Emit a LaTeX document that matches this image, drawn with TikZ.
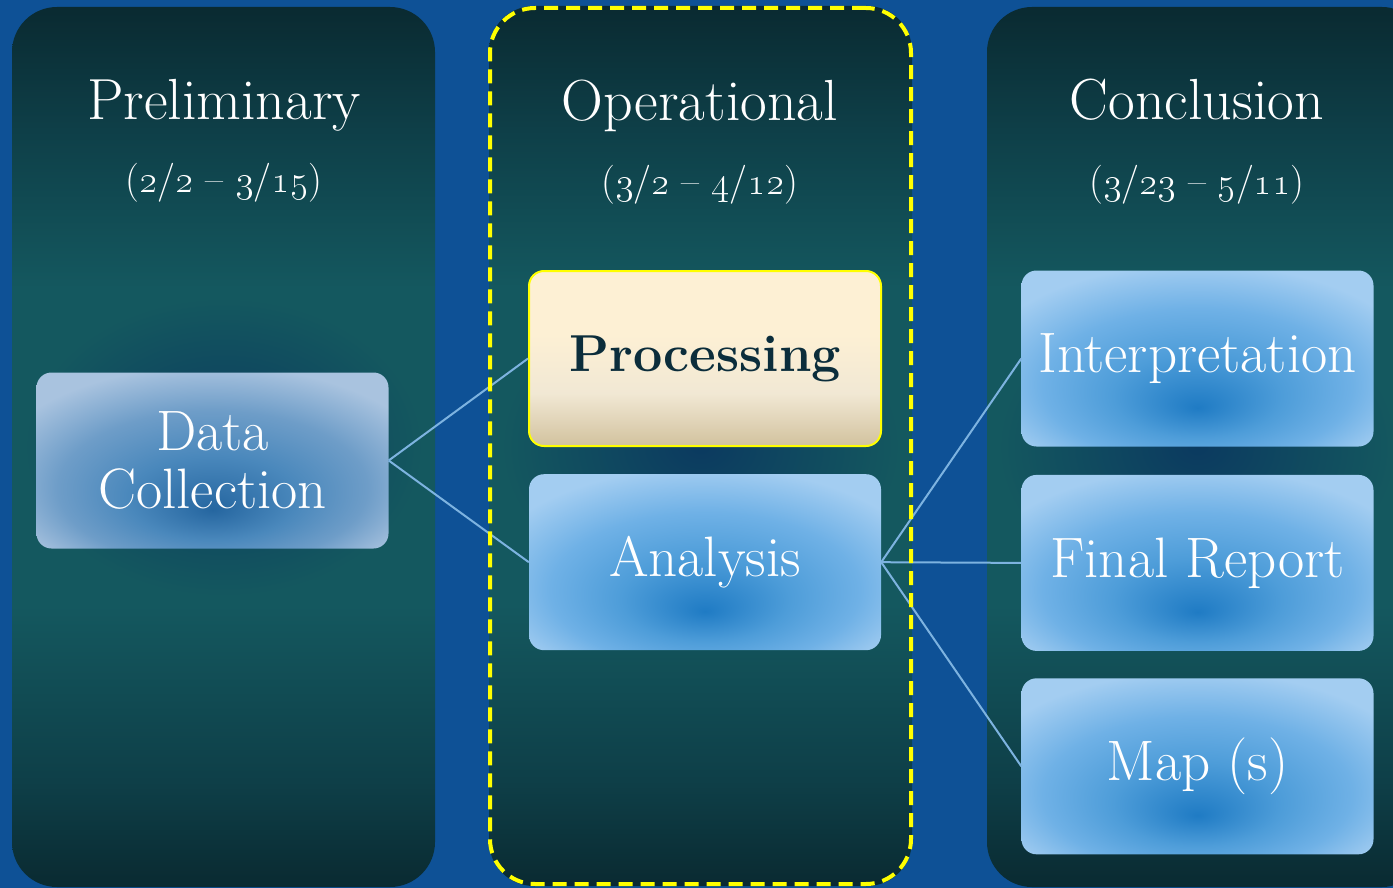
\RequirePackage{fix-cm}
\documentclass[tikz,border=0pt]{standalone}
\usepackage{tikz}
\usetikzlibrary{positioning}
\definecolor{bgBlue}{HTML}{0E5196}
\definecolor{colDark}{HTML}{0A2A31}
\definecolor{colDim}{HTML}{0E3F48}
\definecolor{colTeal}{HTML}{14585F}
\definecolor{colGlow}{HTML}{0B3A60}
\definecolor{boxEdge}{HTML}{A3CDF1}
\definecolor{boxLight}{HTML}{6FB1E6}
\definecolor{boxMid}{HTML}{4E9DD9}
\definecolor{boxDeep}{HTML}{1F7BC4}
\definecolor{dcEdge}{HTML}{A9C3DF}
\definecolor{dcLight}{HTML}{6E9DC8}
\definecolor{dcMid}{HTML}{4A88BC}
\definecolor{dcDeep}{HTML}{2566A0}
\definecolor{creamTop}{HTML}{FDF0D4}
\definecolor{creamMid}{HTML}{F1E8D4}
\definecolor{creamBot}{HTML}{D2C29E}
\definecolor{procInk}{HTML}{0B2D3B}
\definecolor{linkBlue}{HTML}{7DB3E0}
\definecolor{markYellow}{HTML}{FFFF00}
% the path box spans 25bp..75bp of each shading
\pgfdeclareverticalshading{colShade}{100bp}{color(0bp)=(colDark); color(25bp)=(colDark); color(31bp)=(colDim); color(41bp)=(colTeal); color(59bp)=(colTeal); color(68bp)=(colDim); color(75bp)=(colDark); color(100bp)=(colDark)}
\pgfdeclareradialshading{boxGlow}{\pgfpoint{0bp}{-14bp}}{color(0bp)=(boxDeep); color(12bp)=(boxMid); color(22bp)=(boxLight); color(32bp)=(boxEdge); color(50bp)=(boxEdge)}
\pgfdeclareradialshading{dcGlow}{\pgfpoint{0bp}{-14bp}}{color(0bp)=(dcDeep); color(12bp)=(dcMid); color(22bp)=(dcLight); color(32bp)=(dcEdge); color(50bp)=(dcEdge)}
\pgfdeclareverticalshading{creamShade}{100bp}{color(0bp)=(creamBot); color(25bp)=(creamBot); color(40bp)=(creamMid); color(57bp)=(creamTop); color(100bp)=(creamTop)}
\newcommand{\od}[1]{\oldstylenums{#1}}

\begin{document}
\begin{tikzpicture}[x=1pt,y=-1pt,
  column/.style={rounded corners=45pt,minimum width=423pt,minimum height=880pt,shading=colShade,inner sep=0pt},
  opframe/.style={draw=markYellow,line width=4pt,dash pattern=on 14pt off 8pt,rounded corners=45pt,minimum width=421pt,minimum height=876pt,inner sep=0pt},
  coltitle/.style={text=white,font=\fontsize{58}{64}\selectfont,anchor=base,inner sep=0pt},
  coldate/.style={text=white,font=\fontsize{39}{44}\selectfont,anchor=base,inner sep=0pt},
  bluebox/.style={rounded corners=15pt,minimum width=352pt,minimum height=176pt,shading=boxGlow,text=white,font=\fontsize{57}{58}\selectfont,align=center,inner sep=0pt},
  procbox/.style={bluebox,shading=creamShade,draw=markYellow,line width=2pt,text=procInk,font=\fontsize{52}{58}\selectfont\bfseries},
  link/.style={draw=linkBlue,line width=2pt}]
\fill[bgBlue] (0,0) rectangle (1393,888);
\clip (0,0) rectangle (1393,888);
% the three phases
\node[column] (colpre) at (223.5,447) {};
\node[column] (colop) at (700.5,446) {};
\node[column,minimum width=440pt] (colcon) at (1207,447) {};
\shade[inner color=colGlow,outer color=colTeal] (colpre.center) ellipse [x radius=200pt,y radius=150pt];
\shade[inner color=colGlow,outer color=colTeal] (colop.center) ellipse [x radius=200pt,y radius=150pt];
\shade[inner color=colGlow,outer color=colTeal] (1197.5,447) ellipse [x radius=200pt,y radius=150pt];
\node[coltitle] (tpre) at (224,120) {Preliminary};
\node[coldate] (dpre) at (224,193) {(\od{2}/\od{2} -- \od{3}/\od{15})};
\node[coltitle] (top) at (700,121) {Operational};
\node[coldate] (dop) at (700,195) {(\od{3}/\od{2} -- \od{4}/\od{12})};
\node[coltitle] (tcon) at (1197,120) {Conclusion};
\node[coldate] (dcon) at (1197,195) {(\od{3}/\od{23} -- \od{5}/\od{11})};
% task boxes
\node[bluebox,shading=dcGlow] (dc) at (212.5,460.5) {Data\\Collection};
\node[procbox,minimum width=352pt,minimum height=175pt] (proc) at (705,358.5) {Processing};
\node[bluebox,below=27pt of proc] (ana) {Analysis};
\node[bluebox] (interp) at (1197.5,358.5) {Interpretation};
\node[bluebox,below=28pt of interp] (final) {Final Report};
\node[bluebox,below=27pt of final] (maps) {Map (s)};
% links
\draw[link] (dc.east) -- (proc.west);
\draw[link] (dc.east) -- (ana.west);
\draw[link] (ana.east) -- (interp.west);
\draw[link] (ana.east) -- (final.west);
\draw[link] (ana.east) -- (maps.west);
\node[opframe] (opmark) at (colop.center) {};
\end{tikzpicture}
\end{document}
